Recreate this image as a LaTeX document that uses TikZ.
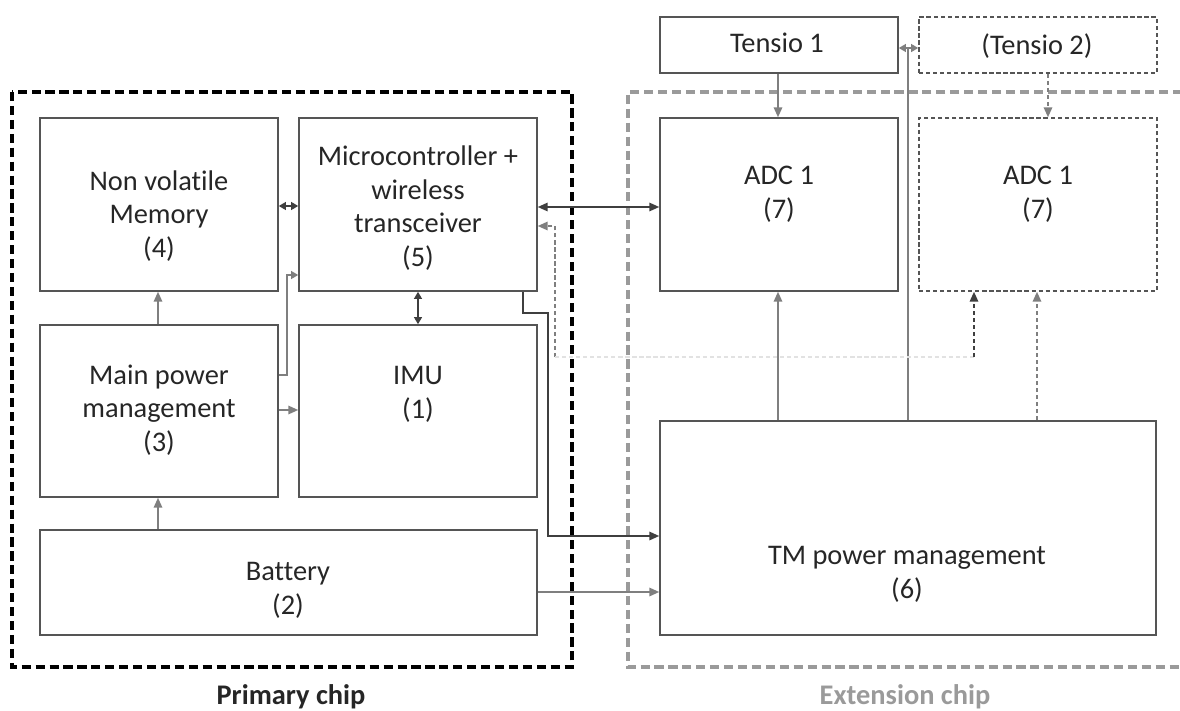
\documentclass[tikz,border=0pt]{standalone}
\usepackage{fontspec}
\setmainfont[Ligatures={NoCommon,NoRare}]{Carlito}
\usetikzlibrary{arrows.meta}

\definecolor{boxc}{HTML}{555555}
\definecolor{darkc}{HTML}{3F3F3F}
\definecolor{grayc}{HTML}{7F7F7F}
\definecolor{txtc}{HTML}{262626}
\definecolor{extc}{HTML}{9A9A9A}
\definecolor{faintc}{HTML}{E2E2E2}

\begin{document}
\begin{tikzpicture}[x=0.025cm, y=-0.025cm,
    >={Triangle[length=7pt,width=6pt]},
    blk/.style 2 args={draw=boxc, line width=1.1pt, inner sep=0pt,
        minimum width=#1*0.025cm, minimum height=#2*0.025cm},
    dblk/.style 2 args={blk={#1}{#2}, dash pattern=on 3pt off 2pt},
    txt/.style={align=center, text=txtc, font=\fontsize{20.2}{24}\selectfont},
    chip/.style={line width=2.2pt, dash pattern=on 6.5pt off 3.4pt},
    dk/.style={draw=darkc, line width=1.2pt},
    gr/.style={draw=grayc, line width=1.2pt},
    shorttip/.style={>={Triangle[length=5pt,width=5.5pt]}},
    dsh/.style={dash pattern=on 3pt off 2pt}]

    % --- 画布 ---
    \useasboundingbox (0,0) rectangle (1180,711);

    % --- 芯片外框 ---
    \draw[chip, black] (12,92) rectangle (572,667);
    \draw[chip, extc] (1182,92) -- (628,92) -- (628,667) -- (1182,667);
    \node[font=\fontsize{20.2}{24}\selectfont\bfseries, text=txtc] (primlbl) at (291,697) {Primary chip};
    \node[font=\fontsize{20.2}{24}\selectfont\bfseries, text=extc] (extlbl) at (905,697) {Extension chip};

    % --- 主芯片模块 ---
    \node[blk={238}{173}] (mem) at (159,204.5) {};
    \node[blk={238}{173}] (mcu) at (418,204.5) {};
    \node[blk={238}{172}] (mpm) at (159,411) {};
    \node[blk={238}{172}] (imu) at (418,411) {};
    \node[blk={497}{105}] (bat) at (288.5,582.5) {};
    \node[txt] (memt) at (159,216) {Non volatile\\Memory\\(4)};
    \node[txt] (mcut) at (418,208) {Microcontroller +\\wireless\\transceiver\\(5)};
    \node[txt] (mpmt) at (159,410) {Main power\\management\\(3)};
    \node[txt] (imut) at (418,394) {IMU\\(1)};
    \node[txt] (batt) at (288,590) {Battery\\(2)};

    % --- 扩展芯片模块 ---
    \node[blk={238}{56}] (ten1) at (779,45) {};
    \node[dblk={238}{56}] (ten2) at (1038,45) {};
    \node[blk={238}{173}] (adc1) at (779,204.5) {};
    \node[dblk={238}{173}] (adc2) at (1038,204.5) {};
    \node[blk={496}{214}] (tm) at (908,528) {};
    \node[txt] (ten1t) at (777,43) {Tensio 1};
    \node[txt] (ten2t) at (1037,46) {(Tensio 2)};
    \node[txt] (adc1t) at (779,194) {ADC 1\\(7)};
    \node[txt] (adc2t) at (1038,194) {ADC 1\\(7)};
    \node[txt] (tmt) at (907,574) {TM power management\\(6)};

    % --- 主芯片内部连线 ---
    \draw[dk, shorttip, <->] (mem.east |- 0,206) -- (mcu.west |- 0,206);
    \draw[dk, shorttip, <->] (mcu.south) -- (imu.north);
    \draw[gr, ->] (mpm.north -| 158,0) -- (mem.south -| 158,0);
    \draw[gr, ->] (bat.north -| 158,0) -- (mpm.south -| 158,0);
    \draw[gr, ->] (mpm.east |- 0,410) -- (imu.west |- 0,410);
    \coordinate (pbend) at (287,375);
    \draw[gr, shorttip, ->] (mpm.east |- pbend) -- (pbend) |- (mcu.west |- 0,275);

    % --- 跨芯片连线 ---
    \draw[dk, <->] (mcu.east |- 0,207) -- (adc1.west |- 0,207);
    \coordinate (cbend) at (548,313);
    \draw[dk, ->] (mcu.south -| 523,0) |- (cbend) |- (tm.west |- 0,536);
    \draw[gr, ->] (bat.east |- 0,592) -- (tm.west |- 0,592);

    % --- 扩展芯片内部连线 ---
    \draw[gr, ->] (ten1.south -| 778,0) -- (adc1.north -| 778,0);
    \draw[gr, ->] (tm.north -| 778,0) -- (adc1.south -| 778,0);
    \draw[gr, dsh, ->] (ten2.south -| 1048,0) -- (adc2.north -| 1048,0);
    \draw[gr, dsh, ->] (tm.north -| 1037,0) -- (adc2.south -| 1037,0);
    \coordinate (split) at (908,48);
    \draw[gr] (tm.north -| split) -- (split);
    \draw[gr, shorttip, <->] (ten1.east |- split) -- (ten2.west |- split);

    % --- 虚线反馈 (Tensio 2 通道) ---
    \coordinate (fbl) at (555,357);
    \coordinate (fbr) at (974,357);
    \draw[gr, dsh, ->] (fbl) |- (mcu.east |- 0,226);
    \draw[draw=faintc, line width=1.2pt, dsh] (fbl) -- (fbr);
    \draw[dk, dsh, ->] (fbr) -- (adc2.south -| fbr);

\end{tikzpicture}
\end{document}
